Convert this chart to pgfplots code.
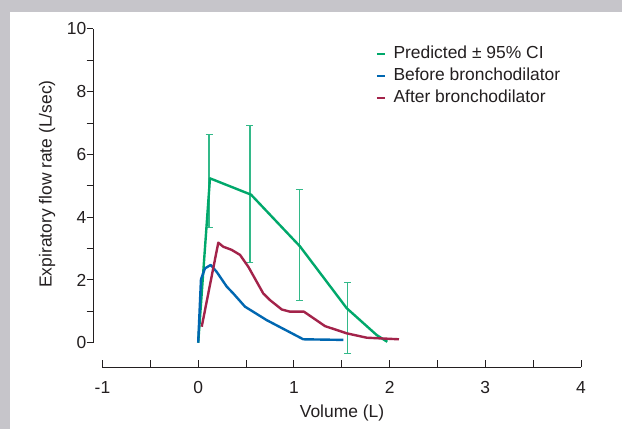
\documentclass[border=0pt]{standalone}
\usepackage{fontspec}
\setmainfont{Liberation Sans}
\usepackage{pgfplots}
\pgfplotsset{compat=1.18}
\definecolor{pgreen}{HTML}{00A86B}
\definecolor{bblue}{HTML}{0067B1}
\definecolor{ared}{HTML}{A3234A}
\definecolor{framegray}{HTML}{C6C5CA}
\definecolor{ink}{HTML}{231F20}

\begin{document}
\begin{tikzpicture}[x=1bp,y=1bp]
% grey frame on top and left
\fill[framegray] (-93.3,-61.8) rectangle (528.7,367.2);
\fill[white] (-83.3,-61.8) rectangle (528.7,355.2);

\begin{axis}[at={(0,0)},anchor=south west,scale only axis,
  width=487.7bp,height=338.2bp,
  xmin=-1.096,xmax=4,ymin=-0.78,ymax=10,
  clip=false,
  axis lines*=left, axis line style={draw=none},
  xtick={-1,-0.5,0,0.5,1,1.5,2,2.5,3,3.5,4},
  xticklabels={-1,,0,,1,,2,,3,,4},
  xtick style={draw=none},
  ytick={0,1,2,3,4,5,6,7,8,9,10},
  yticklabels={0,,2,,4,,6,,8,,10},
  tick align=outside, major tick length=6.7bp,
  ytick style={ink,line width=1bp},
  tick label style={font=\fontsize{17.5}{21}\selectfont,text=ink},
  xticklabel style={yshift=-4bp},
  yticklabel style={xshift=3.2bp},
  legend style={at={(0.573,0.962)},anchor=north west,draw=none,fill=none,
    font=\fontsize{17.5}{21}\selectfont,text=ink,row sep=1.8bp,
    nodes={inner sep=2bp,text height=12.5bp,text depth=3.5bp}},
  legend cell align=left,
  legend image code/.code={\draw[#1,line width=1.8bp] (0bp,0bp) -- (8bp,0bp); \path (13.5bp,0bp);},
]
% axis lines
\draw[ink,line width=1.1bp] (axis cs:-1,-0.78) -- (axis cs:4,-0.78);
\draw[ink,line width=1.1bp] (axis cs:-1.096,0) -- (axis cs:-1.096,10);
\pgfplotsinvokeforeach{-1,-0.5,0,0.5,1,1.5,2,2.5,3,3.5,4}{
  \draw[ink,line width=1bp] (axis cs:#1,-0.78) -- ([yshift=7.5bp]axis cs:#1,-0.78);
}

% 95% CI bars
\addplot[draw=none, mark=none, forget plot,
  error bars/.cd, y dir=both, y explicit,
  error bar style={pgreen!80,line width=1.1bp},
  error mark options={pgreen!80,rotate=90,mark size=3.5bp,line width=1.1bp}]
  coordinates {
  (0.113,5.16) +- (0,1.48)
  (0.541,4.73) +- (0,2.18)
  (1.056,3.11) +- (0,1.76)
  (1.562,0.795) +- (0,1.13)
};

\addplot[pgreen, line width=2.4bp, line join=round] coordinates {
  (0,0) (0.123,5.24) (0.552,4.72) (1.064,3.07) (1.552,1.10) (1.865,0.245) (1.976,0.03)
};
\addlegendentry{Predicted ± 95\% CI}

\addplot[bblue, line width=2.4bp, line join=round] coordinates {
  (0,0) (0.029,2.02) (0.071,2.37) (0.131,2.48) (0.193,2.26) (0.298,1.79)
  (0.367,1.57) (0.489,1.15) (0.716,0.72) (1.098,0.11) (1.516,0.09)
};
\addlegendentry{Before bronchodilator}

\addplot[ared, line width=2.4bp, line join=round] coordinates {
  (0.037,0.51) (0.21,3.19) (0.262,3.06) (0.35,2.96) (0.437,2.80) (0.524,2.42)
  (0.68,1.57) (0.75,1.36) (0.873,1.06) (0.959,0.99) (1.105,0.99) (1.325,0.53)
  (1.552,0.30) (1.761,0.16) (2.098,0.11)
};
\addlegendentry{After bronchodilator}
\end{axis}

\node[rotate=90,text=ink,font=\fontsize{17.5}{21}\selectfont] at (-46.3,183.2) {Expiratory flow rate (L/sec)};
\node[text=ink,font=\fontsize{17.5}{21}\selectfont] at (248.7,-45.6) {Volume (L)};

\pgfresetboundingbox
\path (-93.3,-61.8) rectangle (528.7,367.2);
\end{tikzpicture}
\end{document}
